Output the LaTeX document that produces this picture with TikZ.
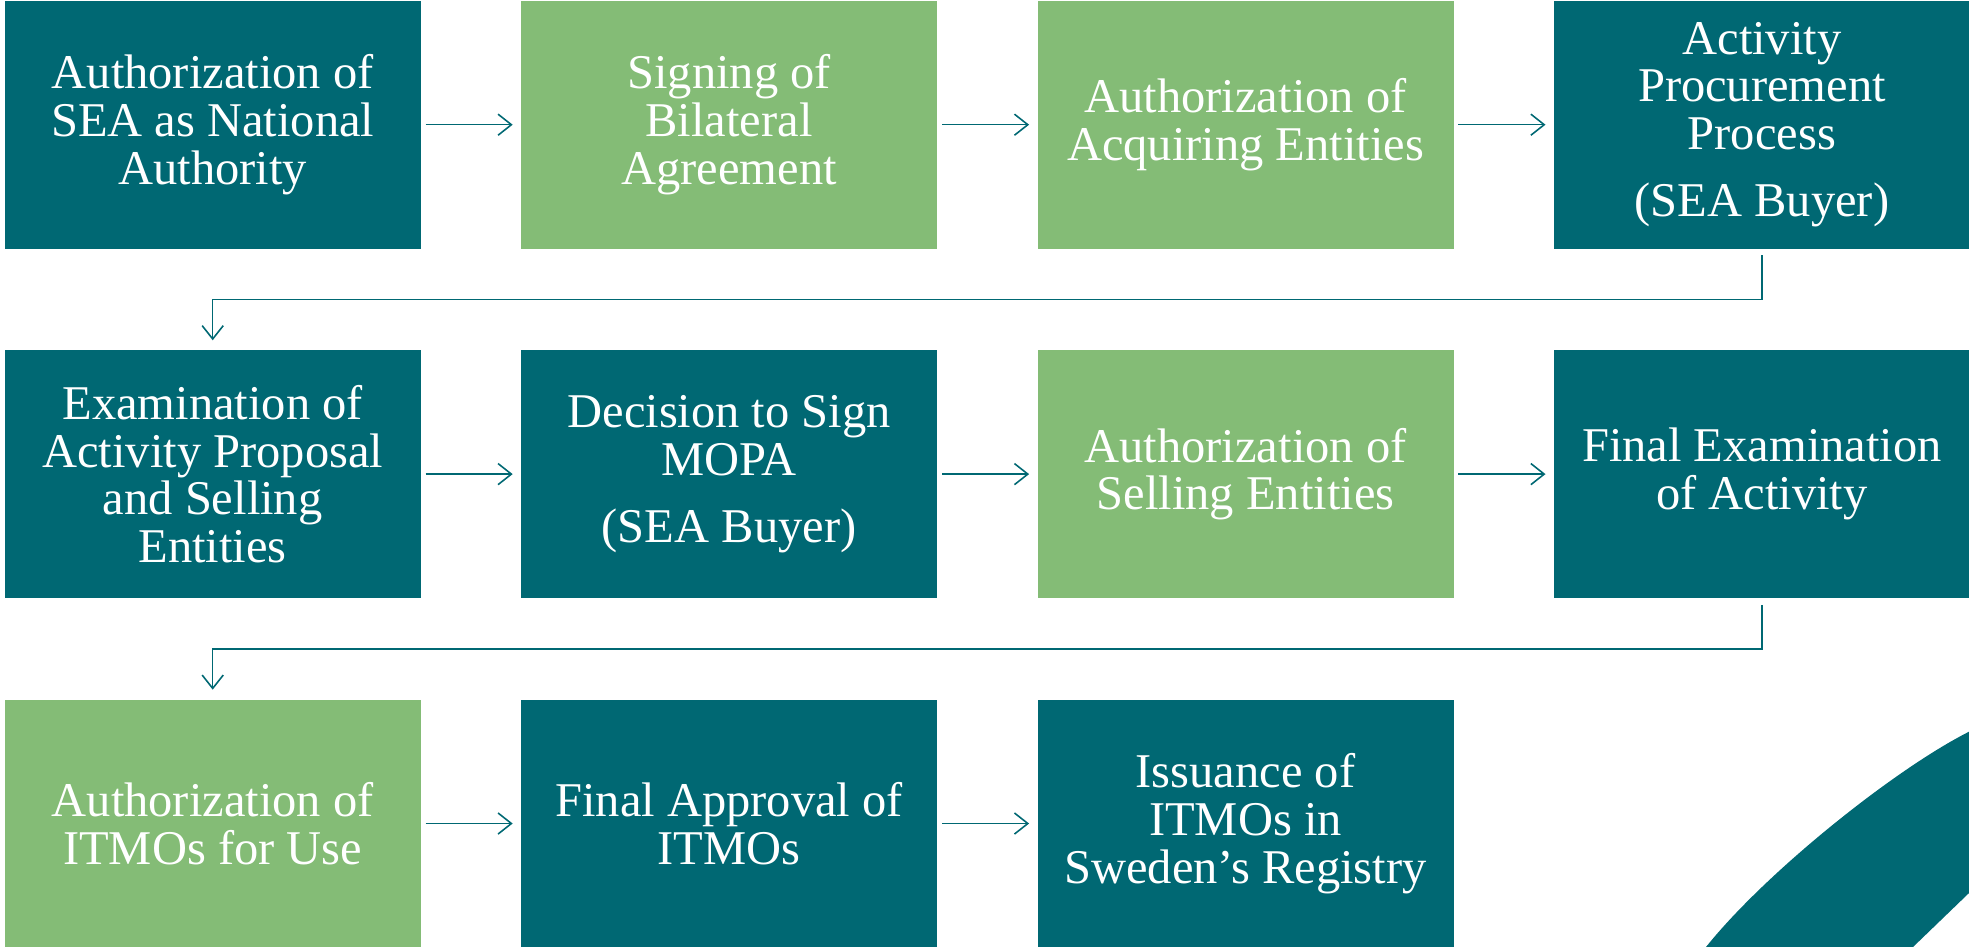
\documentclass[tikz,border=0pt]{standalone}
\usepackage{fontspec}
\setmainfont{Liberation Serif}
\usetikzlibrary{positioning,arrows.meta}
\definecolor{seateal}{RGB}{0,104,115}
\definecolor{seagreen}{RGB}{132,188,118}

\begin{document}
\begin{tikzpicture}[
  box/.style={minimum width=4.16cm, minimum height=2.48cm, inner sep=0pt,
    align=center, text=white, font=\fontsize{13.8}{13.6}\selectfont},
  dark/.style={box, fill=seateal},
  light/.style={box, fill=seagreen},
  flow/.style={draw=seateal, line width=0.45pt,
    -{Straight Barb[length=3.8pt,width=6pt]},
    shorten <=1.2pt, shorten >=2.2pt},
  node distance=1.0cm and 0.99cm]

\useasboundingbox (0,0) rectangle (19.69,-9.47);

% Prima fila
\node[dark, anchor=north west] (n1) at (0.04,0) {Authorization of\\SEA as National\\Authority};
\node[light, right=of n1] (n2) {Signing of\\Bilateral\\Agreement};
\node[light, right=of n2] (n3) {Authorization of\\Acquiring Entities};
\node[dark, right=of n3] (n4) {Activity\\Procurement\\Process\\[5.5pt](SEA Buyer)};

% Seconda fila
\node[dark, below=of n1] (n5) {Examination of\\Activity Proposal\\and Selling\\Entities};
\node[dark, right=of n5] (n6) {Decision to Sign\\MOPA\\[5.5pt](SEA Buyer)};
\node[light, right=of n6] (n7) {Authorization of\\Selling Entities};
\node[dark, right=of n7] (n8) {Final Examination\\of Activity};

% Terza fila
\node[light, below=of n5] (n9) {Authorization of\\ITMOs for Use};
\node[dark, right=of n9] (n10) {Final Approval of\\ITMOs};
\node[dark, right=of n10] (n11) {Issuance of\\ITMOs in\\Sweden’s Registry};

% Frecce
\foreach \a/\b in {n1/n2,n2/n3,n3/n4,n5/n6,n6/n7,n7/n8,n9/n10,n10/n11}
  \draw[flow] (\a) -- (\b);

\draw[flow, shorten <=1.7pt, shorten >=2.6pt] (n4.south) -- ++(0,-0.5) -| (n5.north);
\draw[flow, shorten <=1.7pt, shorten >=2.6pt] (n8.south) -- ++(0,-0.5) -| (n9.north);

% Arco in basso
\fill[seateal] (17.06,-9.47) .. controls (17.66,-8.72) and (18.95,-7.69) .. (19.69,-7.317)
  -- (19.69,-8.93) -- (19.13,-9.47) -- cycle;
\end{tikzpicture}
\end{document}
